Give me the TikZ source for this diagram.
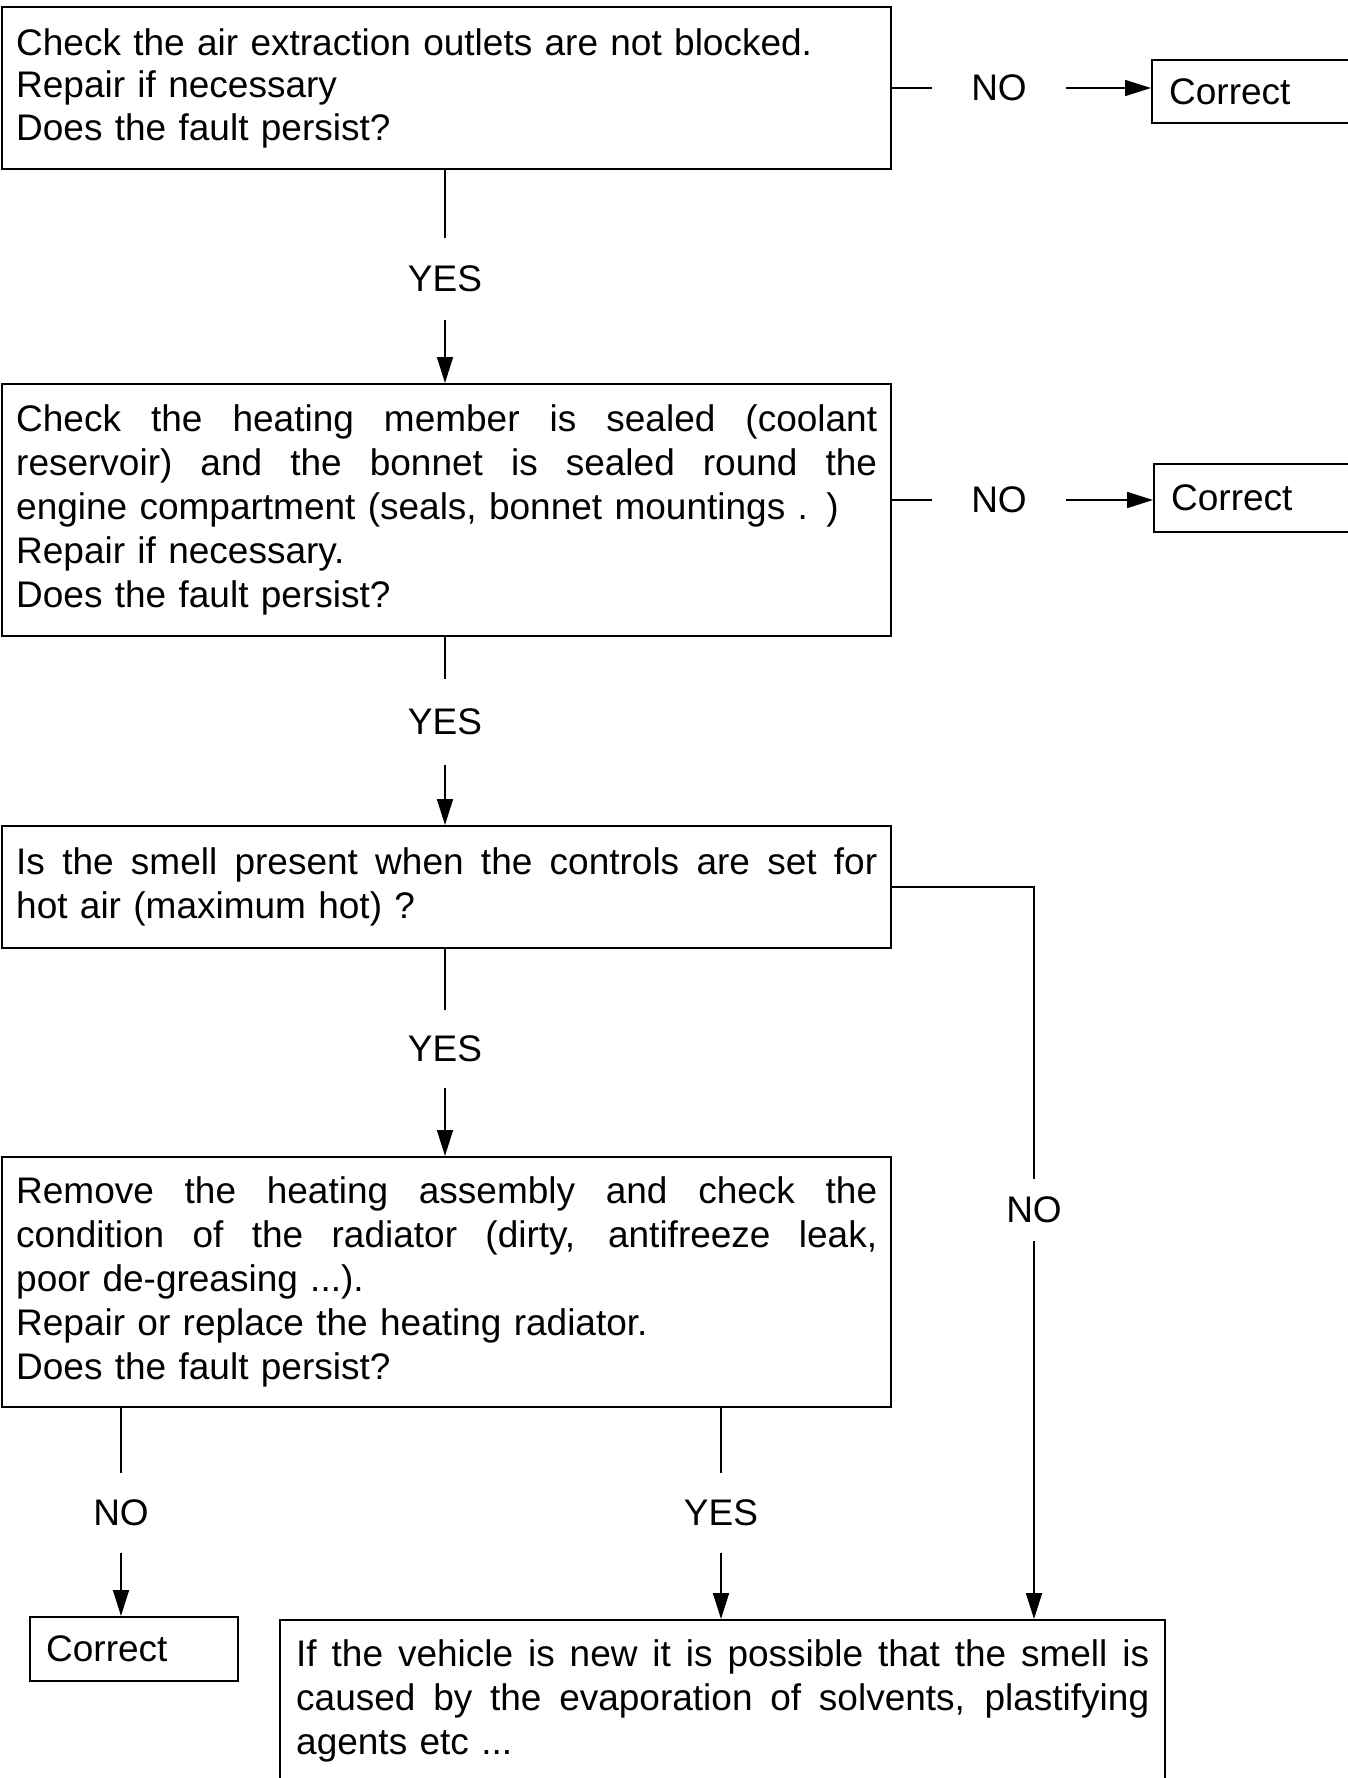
\documentclass[tikz,border=0pt]{standalone}
\usepackage{fontspec}
\setmainfont{Liberation Sans}
\usetikzlibrary{arrows.meta}
\newcommand\jline[2]{\leavevmode\hbox to #1{\spaceskip=0.28em plus 1fil\relax #2}}
\begin{document}
\begin{tikzpicture}[x=1pt,y=-1pt,
  txt/.style={font=\fontsize{37}{44}\selectfont},
  box/.style={txt, draw, line width=2.4pt, align=left, inner xsep=14pt, inner ysep=0pt, anchor=north west},
  lab/.style={txt, inner sep=0pt},
  conn/.style={line width=1.7pt},
  arr/.style={conn, -{Triangle[length=26pt,width=16pt]}}]
\fill[white] (0,0) rectangle (1348,1778);
\useasboundingbox (0,0) rectangle (1348,1778);

% main boxes
\node[box, text width=861pt, minimum height=162pt, font=\fontsize{37}{42.5}\selectfont] (b1) at (1,6)
  {Check the air extraction outlets are not blocked.\\Repair if necessary\\Does the fault persist?};
\node[box, text width=861pt, minimum height=252pt] (b2) at (1,383)
  {\jline{861pt}{Check the heating member is sealed (coolant}\\
   \jline{861pt}{reservoir) and the bonnet is sealed round the}\\
   engine compartment (seals, bonnet mountings . )\\
   Repair if necessary.\\
   Does the fault persist?};
\node[box, text width=861pt, minimum height=122pt] (b3) at (1,825)
  {\jline{861pt}{Is the smell present when the controls are set for}\\
   hot air (maximum hot) ?};
\node[box, text width=861pt, minimum height=250pt] (b4) at (1,1156)
  {\jline{861pt}{Remove the heating assembly and check the}\\
   \jline{861pt}{condition of the radiator (dirty, antifreeze leak,}\\
   poor de-greasing ...).\\
   Repair or replace the heating radiator.\\
   Does the fault persist?};
\node[box, inner xsep=16pt, text width=853pt, minimum height=161pt] (fin) at (279,1619)
  {\jline{853pt}{If the vehicle is new it is possible that the smell is}\\
   \jline{853pt}{caused by the evaporation of solvents, plastifying}\\
   agents etc ...};

% result boxes
\node[box, inner xsep=17pt, text width=186pt, minimum height=63pt] (c1) at (1151,59) {Correct};
\node[box, inner xsep=17pt, text width=186pt, minimum height=68pt] (c2) at (1153,463) {Correct};
\node[box, inner xsep=16pt, text width=176pt, minimum height=64pt] (c3) at (29,1616) {Correct};

% labels
\node[lab, minimum width=134pt] (no1) at (999,88) {NO};
\node[lab, minimum width=134pt] (no2) at (999,500) {NO};
\node[lab, minimum height=82pt] (yes1) at (445,279) {YES};
\node[lab, minimum height=85pt] (yes2) at (445,722) {YES};
\node[lab, minimum height=77pt] (yes3) at (445,1049) {YES};
\node[lab, minimum height=62pt] (no3) at (1034,1210) {NO};
\node[lab, minimum height=79pt] (no4) at (121,1513) {NO};
\node[lab, minimum height=79pt] (yes4) at (721,1513) {YES};

% connectors
\draw[conn] (b1.east |- no1) -- (no1);
\draw[arr] (no1) -- (no1 -| c1.west);
\draw[conn] (b2.east |- no2) -- (no2);
\draw[arr] (no2) -- (no2 -| c2.west);

\draw[conn] (b1.south -| yes1) -- (yes1);
\draw[arr] (yes1) -- (b2.north -| yes1);
\draw[conn] (b2.south -| yes2) -- (yes2);
\draw[arr] (yes2) -- (b3.north -| yes2);
\draw[conn] (b3.south -| yes3) -- (yes3);
\draw[arr] (yes3) -- (b4.north -| yes3);

\draw[conn] (b3.east) -| (no3);
\draw[arr] (no3) -- (fin.north -| no3);

\draw[conn] (b4.south -| no4) -- (no4);
\draw[arr] (no4) -- (c3.north -| no4);
\draw[conn] (b4.south -| yes4) -- (yes4);
\draw[arr] (yes4) -- (fin.north -| yes4);
\end{tikzpicture}
\end{document}
